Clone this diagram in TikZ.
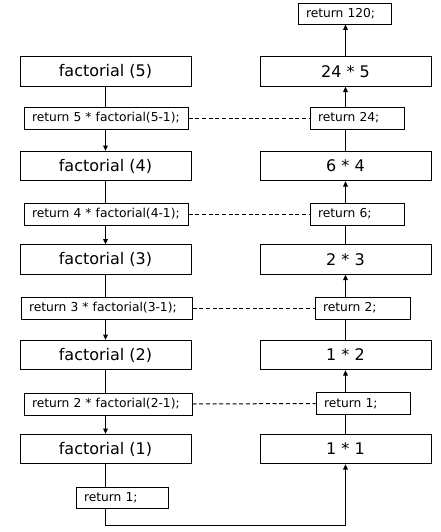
\documentclass[tikz,border=0pt]{standalone}
\usepackage{fontspec}
\setmainfont{DejaVu Sans}
\usetikzlibrary{arrows.meta, positioning}

\tikzset{
  bigbox/.style={draw, line width=0.75pt, inner sep=0pt, minimum width=128.25pt,
    minimum height=22pt, font=\fontsize{12}{14}\selectfont},
  smallbox/.style={draw, line width=0.75pt, inner xsep=6pt, inner ysep=0pt,
    minimum height=16.5pt, align=left, font=\fontsize{9.2}{11}\selectfont},
  flow/.style={line width=0.75pt, -{Triangle[length=4pt,width=3.5pt]}},
  link/.style={line width=0.75pt},
  dots/.style={line width=0.75pt, dash pattern=on 3pt off 2pt}
}

\begin{document}
\begin{tikzpicture}[x=0.75pt, y=-0.75pt]
  % ── Canvas (440 × 532 px) ───────────────────────────────────────────────
  \useasboundingbox (0,0) rectangle (440,532);

  % ── Calls, left column ──────────────────────────────────────────────────
  \foreach \n/\y in {5/71.5, 4/166, 3/259.5, 2/355, 1/449}{
    \node[bigbox] (f\n) at (105.5,\y) {factorial (\n)};
  }
  % box width minus 16 px of padding
  \foreach \n/\x/\w/\y in {5/106/148/118, 4/106/148/214, 3/106.5/155/308, 2/108/152/404}{
    \node[smallbox, text width=\w*0.75pt] (c\n) at (\x,\y) {\mbox{return \n{} * factorial(\n-1);}};
  }
  \node[smallbox, text width=57pt, minimum height=15.75pt] (ret1) at (122,497.5) {return 1;};

  % ── Products, right column ──────────────────────────────────────────────
  \foreach \n/\y/\t in {5/71.5/24 * 5, 4/166/6 * 4, 3/259.5/2 * 3, 2/355/1 * 2, 1/449/1 * 1}{
    \node[bigbox] (p\n) at (345.5,\y) {\t};
  }
  \foreach \n/\x/\w/\y/\v in {5/357/78/118/24, 4/357/78/214/6, 3/362.5/79/308/2, 2/363/78/403.5/1}{
    \node[smallbox, text width=\w*0.75pt] (r\n) at (\x,\y) {return \v;};
  }
  \node[smallbox, text width=57.75pt, minimum height=15.75pt] (ret120) at (344.5,13.5) {return 120;};

  % ── Connectors ──────────────────────────────────────────────────────────
  \foreach \n/\m in {5/4, 4/3, 3/2, 2/1}{
    \draw[link] (f\n.south) -- (f\n.south |- c\n.north);
    \draw[flow] (f\n.south |- c\n.south) -- (f\m.north);
    \draw[dots] (c\n.east) -- (r\n.west);
    \draw[link] (p\m.north) -- (p\m.north |- r\n.south);
    \draw[flow] (p\m.north |- r\n.north) -- (p\n.south);
  }
  \draw[flow] (p5.north) -- (p5.north |- ret120.south);
  \draw[link] (f1.south) -- (f1.south |- ret1.north);
  \coordinate (bend) at (345.5,525);
  \draw[flow] (f1.south |- ret1.south) |- (bend) -- (p1.south);
\end{tikzpicture}
\end{document}
